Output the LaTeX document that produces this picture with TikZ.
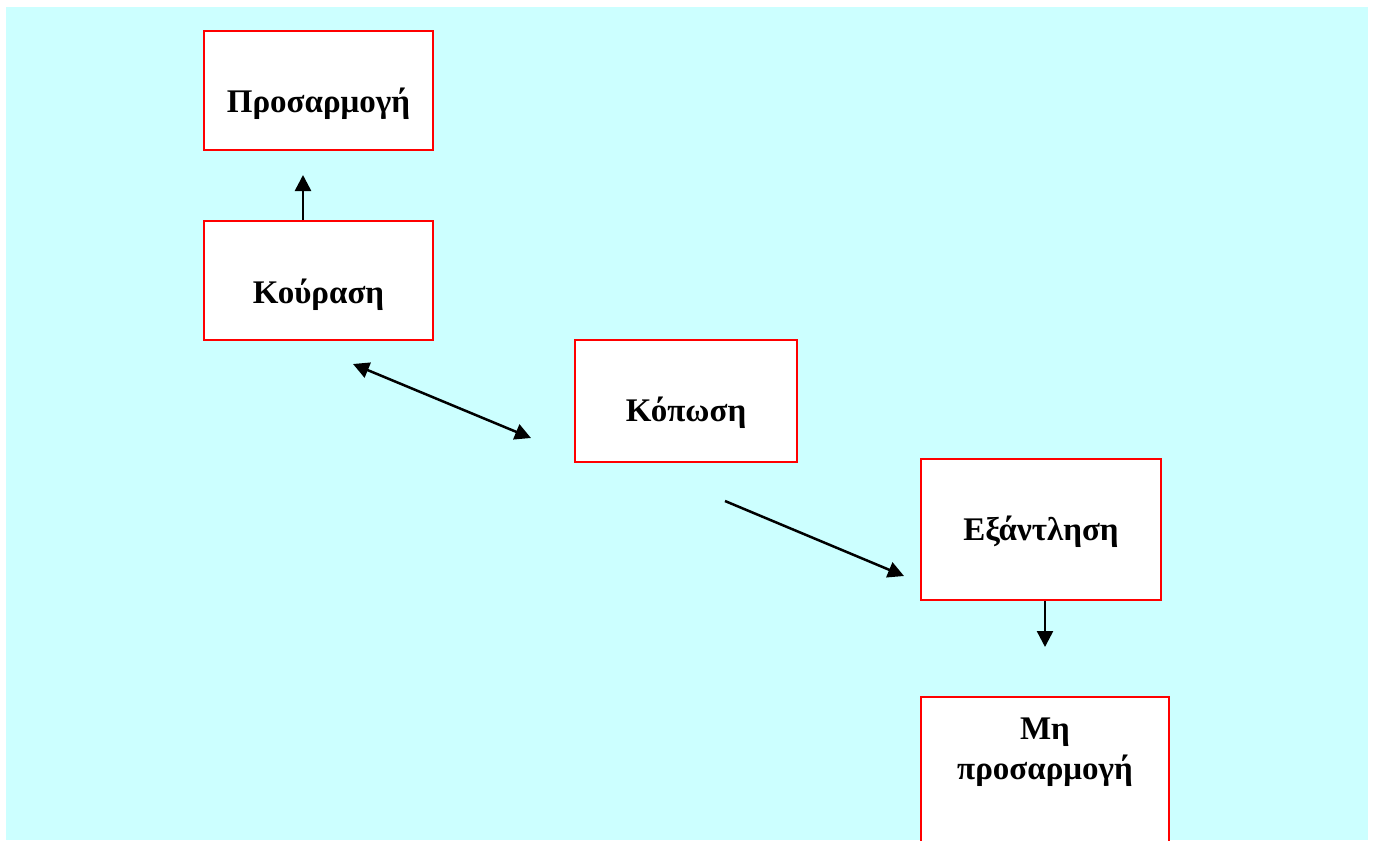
\documentclass[tikz,border=0pt]{standalone}
\usepackage{fontspec}
\setmainfont{Liberation Serif}
\usetikzlibrary{arrows.meta}

\definecolor{bgcyan}{HTML}{CCFFFF}

\tikzset{box/.style={draw=red, fill=white, line width=2pt, inner sep=0pt, align=center,
    font=\bfseries\fontsize{33}{40}\selectfont}}

\begin{document}
\begin{tikzpicture}[x=1pt, y=-1pt, line width=2.5pt, >={Triangle[length=16pt,width=16pt]}]

\useasboundingbox (0,0) rectangle (1375,840);
\fill[bgcyan] (6,7) rectangle (1368,840);  % background

% boxes
\node[box, minimum width=229pt, text height=82pt, text depth=37pt] (prosarmogi) at (318.5,90.5) {Προσαρμογή};
\node[box, minimum width=229pt, text height=82pt, text depth=37pt] (kourasi) at (318.5,280.5) {Κούραση};
\node[box, minimum width=222pt, text height=81pt, text depth=41pt] (koposi) at (686,401) {Κόπωση};
\node[box, minimum width=240pt, text height=81pt, text depth=60pt] (exantlisi) at (1041,529.5) {Εξάντληση};
\node[box, minimum width=248pt, text height=82pt, text depth=91pt] (miprosarmogi) at (1045,783.5) {Μη\\προσαρμογή};

% free ends of the arrows
\coordinate (up) at (303,175);
\coordinate (d1) at (353,364);
\coordinate (d2) at (531,438);
\coordinate (e1) at (725,501);
\coordinate (e2) at (904,576);
\coordinate (down) at (1045,647);

% arrows
\draw[->] (up |- kourasi.north) -- (up);
\draw[<->] (d1) -- (d2);
\draw[->] (e1) -- (e2);
\draw[->] (down |- exantlisi.south) -- (down);

\end{tikzpicture}
\end{document}
